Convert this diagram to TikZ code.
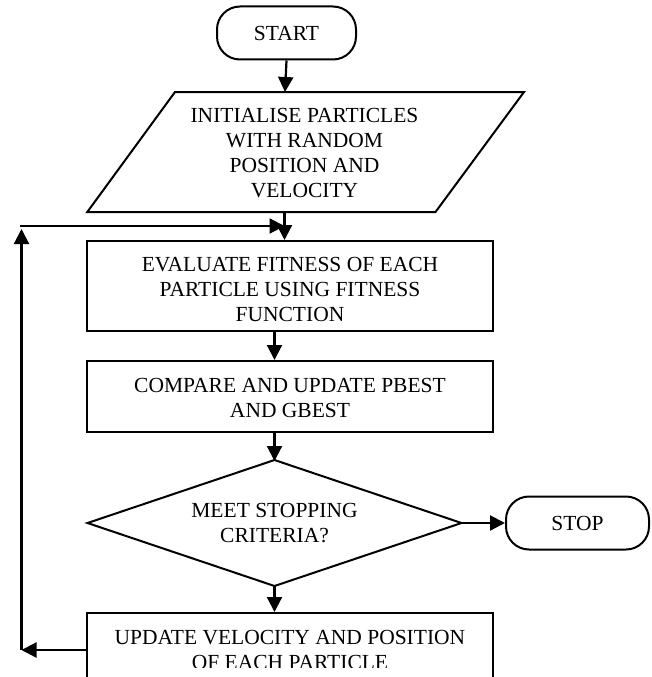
\documentclass[tikz,border=0pt]{standalone}
\usepackage{fontspec}
\setmainfont{Liberation Serif}
\usetikzlibrary{shapes.geometric,arrows.meta}
\begin{document}
\begin{tikzpicture}[x=1pt,y=-1pt,
 every node/.style={font=\fontsize{21.5}{25}\selectfont, align=center, inner sep=0pt},
 box/.style={draw, line width=2pt, minimum width=405.5pt},
 term/.style={draw, line width=2pt, rounded corners=23pt, minimum height=53pt},
 decision/.style={draw, diamond, line width=2pt, outer sep=0pt, minimum width=374pt, minimum height=126pt, aspect=2.97},
 conn/.style={line width=2.2pt, -{Triangle[length=15pt,width=15pt]}},
 plain/.style={line width=2pt, line join=miter}
]
\useasboundingbox (0,0) rectangle (652,677);
\clip (0,0) rectangle (652,677);
% start
\node[term, minimum width=139pt] (start) at (286.5,33) {START};
% parallelogram
\draw[plain] (175,92) -- (524,92) -- (435.5,212) -- (87.3,212) -- cycle;
\node (init) at (304.5,153) {INITIALISE PARTICLES\\WITH RANDOM\\POSITION AND\\VELOCITY};
\coordinate (initT) at (285,92);
\coordinate (initB) at (284.5,212);
% boxes
\node[box, minimum height=90pt] (eval) at (290,286) {};
\node (evaltext) at (290,289) {EVALUATE FITNESS OF EACH\\PARTICLE USING FITNESS\\FUNCTION};
\node[box, minimum height=71pt] (cmp) at (290,396.5) {};
\node (cmptext) at (290,397.5) {COMPARE AND UPDATE PBEST\\AND GBEST};
\node[decision] (dia) at (274.5,523) {MEET STOPPING\\CRITERIA?};
\node[term, minimum width=143pt] (stop) at (577.5,523) {STOP};
\node[box, minimum height=110pt] (upd) at (290,668) {};
\begin{scope}
\clip (0,0) rectangle (652,667.5);
\node (updtext) at (290,650) {UPDATE VELOCITY AND POSITION\\OF EACH PARTICLE};
\end{scope}
% loop coordinates
\coordinate (loopB) at (21.5,650);
\coordinate (loopT) at (21.5,229);
\coordinate (loopC) at (21.5,226);
% connectors
\draw[conn] (start.south) -- (initT);
\draw[conn] (initB) -- (initB |- eval.north);
\draw[conn] (eval.south -| dia.north) -- (cmp.north -| dia.north);
\draw[conn] (cmp.south -| dia.north) -- ([yshift=-1pt]dia.north);
\draw[conn] (dia.east) -- (stop.west);
\draw[conn] ([yshift=1pt]dia.south) -- (upd.north -| dia.south);
\draw[conn] (upd.west |- loopB) -- (loopB);
\draw[conn] (loopB) -- (loopT);
\draw[conn] ([xshift=-1.1pt]loopC) -- (initB |- loopC);
\end{tikzpicture}
\end{document}
